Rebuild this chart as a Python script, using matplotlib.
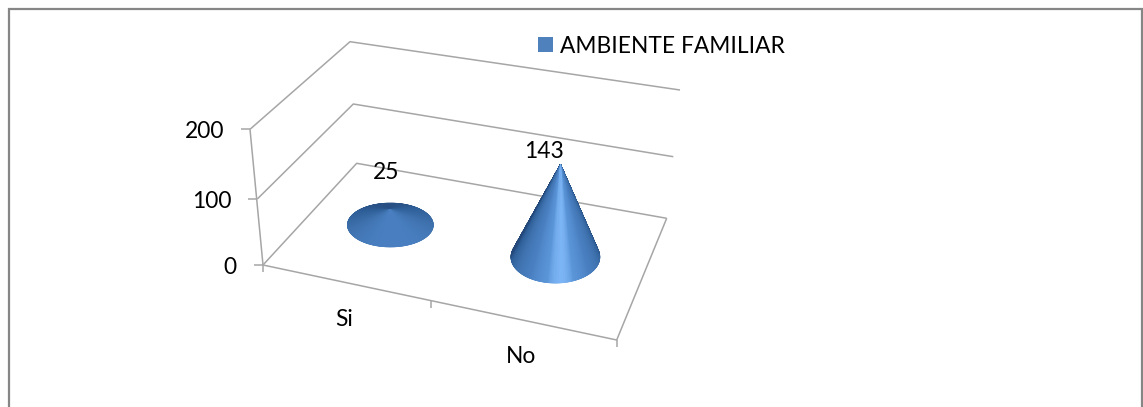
import numpy as np
import matplotlib
matplotlib.use("Agg")
import matplotlib.pyplot as plt
from matplotlib.collections import PolyCollection
from matplotlib.colors import LinearSegmentedColormap
from matplotlib.patches import Rectangle

categories = ["Si", "No"]
values = [25, 143]
series_name = "AMBIENTE FAMILIAR"
y_ticks = [0, 100, 200]

# Layout of the 3D box on the canvas, in pixels, per level of y_ticks
FL = np.array([[263, 265], [257.3, 199], [250, 129.3]])
BL = np.array([[356.7, 163.3], [353.3, 104], [350, 41.7]])
BR = np.array([[666.7, 218.3], [673.3, 156.7], [680, 90]])
FR = np.array([[616.7, 340], [623, 275], [630, 200]])
cone_u = [0.465, 1.465]
cone_v = 0.54
tick_u = [0, 0.948, 2]
base_a = [43, 44.5]
base_b = [22, 26]
label_offset = [(-4, -37), (-17, -13)]

GRID = "#a6a6a6"
TEXT = "#000000"
plt.rcParams["font.family"] = ["Lato", "DejaVu Sans"]
FS = 16.4


def project(u, v, value):
    """Category position u (0..n), depth v (0 front, 1 back), value -> pixel."""
    s = u / len(categories)
    out = []
    for k in range(2):
        lv = [np.interp(value, y_ticks, c[:, k]) for c in (FL, FR, BL, BR)]
        front = lv[0] * (1 - s) + lv[1] * s
        back = lv[2] * (1 - s) + lv[3] * s
        out.append(front * (1 - v) + back * v)
    return np.array(out)


cmap = LinearSegmentedColormap.from_list(
    "cone",
    [(0.0, "#24487a"), (0.1, "#24487a"), (0.25, "#2f5f98"), (0.5, "#3d70ac"),
     (0.8, "#4a80c2"), (0.96, "#5a95d8"), (1.0, "#80b8f8")],
)


def draw_cone(ax, center, apex, a, b):
    th = np.linspace(0, 2 * np.pi, 721)
    px = center[0] + a * np.cos(th)
    py = center[1] + b * np.sin(th)
    mid = (th[:-1] + th[1:]) / 2
    ratio = (center[1] - apex[1]) / a * 1.1
    n = np.column_stack([ratio * np.cos(mid), ratio * np.sin(mid), np.ones_like(mid)])
    n /= np.linalg.norm(n, axis=1, keepdims=True)
    light = np.array([0.1, 0.85, 0.5])
    light = light / np.linalg.norm(light)
    shade = np.clip(n @ light, 0, 1)
    order = np.argsort(np.sin(mid))
    tris = [[(apex[0], apex[1]), (px[i], py[i]), (px[i + 1], py[i + 1])] for i in order]
    cols = cmap(shade[order])
    ax.add_collection(PolyCollection(tris, facecolors=cols, edgecolors=cols,
                                     linewidths=0.4, zorder=3))


fig = plt.figure(figsize=(11.43, 4.07), dpi=100)
ax = fig.add_axes([0, 0, 1, 1])
ax.set_xlim(0, 1143)
ax.set_ylim(407, 0)
ax.axis("off")

# outer frame: top, left and right only
ax.plot([8.5, 8.5, 1142, 1142], [407, 8.5, 8.5, 407], color="#868686", lw=1.6,
        solid_joinstyle="miter", zorder=1)

line = dict(color=GRID, lw=1.1, zorder=2, solid_capstyle="butt")
n = len(categories)
for val in y_ticks:
    p = [project(0, 0, val), project(0, 1, val), project(n, 1, val)]
    ax.plot(*zip(*p), **line)
    a = project(0, 0, val)
    ax.plot([a[0] - 9, a[0]], [a[1], a[1]], **line)
    ax.text(a[0] - 26, a[1] + 2.5, str(val), ha="right", va="center",
            fontsize=FS, color=TEXT, zorder=5)

ax.plot(*zip(project(0, 0, 0), project(n, 0, 0), project(n, 1, 0)), **line)
ax.plot(*zip(project(0, 0, 0), project(0, 0, y_ticks[-1])), **line)
for u in tick_u:
    p = project(u, 0, 0)
    ax.plot([p[0], p[0]], [p[1], p[1] + 7], **line)

for i, (cat, val) in enumerate(zip(categories, values)):
    c = project(cone_u[i], cone_v, 0)
    t = project(cone_u[i], cone_v, val)
    draw_cone(ax, c, t, base_a[i], base_b[i])
    ax.text(t[0] + label_offset[i][0], t[1] + label_offset[i][1], str(val),
            ha="center", va="center", fontsize=FS, color=TEXT, zorder=5)
    f = project(i + 0.5, 0, 0)
    ax.text(f[0] - 7.5, f[1] + 35.5, cat, ha="center", va="center",
            fontsize=FS, color=TEXT, zorder=5)

ax.add_patch(Rectangle((538, 37), 15, 15, facecolor="#4f81bd", edgecolor="none", zorder=4))
ax.text(560, 46.5, series_name, ha="left", va="center", fontsize=FS, color=TEXT, zorder=5)

fig.savefig("out.png", dpi=100)
